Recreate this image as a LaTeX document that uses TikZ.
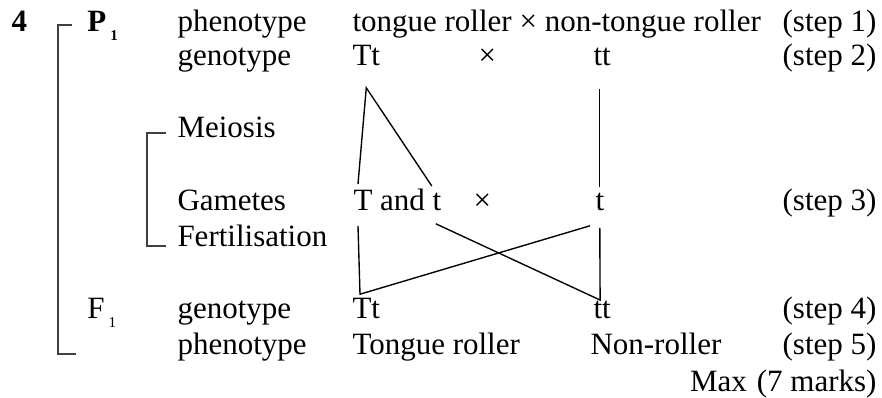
\documentclass[tikz,border=0pt]{standalone}
\usepackage{fontspec}
\setmainfont{Liberation Serif}
\usetikzlibrary{calc}
\newcommand{\lowone}{\kern1.6pt\raisebox{-3.4pt}{\fontsize{6}{6}\selectfont 1}}

\begin{document}
\begin{tikzpicture}[x=0.4pt,y=-0.4pt,
  txt/.style={anchor=base west,inner sep=0pt,font=\fontsize{12.4}{14}\selectfont},
  stp/.style={txt,anchor=base east},
  link/.style={line width=.55pt,line join=miter},
  bracket/.style={line width=.85pt,draw=black!75}]
\useasboundingbox (0,0) rectangle (882,398);
% question number and generations
\node[txt,font=\fontsize{12.4}{14}\selectfont\bfseries] (qnum) at (11,32) {4};
\node[txt,font=\fontsize{12.4}{14}\selectfont\bfseries] (P1) at (87,32) {P\lowone};
\node[txt] (F1) at (87,319) {F\lowone};
% row labels
\node[txt] (phen1) at (177,32) {phenotype};
\node[txt] (geno1) at (177,66) {genotype};
\node[txt] (meiosis) at (177,138) {Meiosis};
\node[txt] (gam) at (177,211) {Gametes};
\node[txt] (fert) at (177,247) {Fertilisation};
\node[txt] (geno2) at (177,319) {genotype};
\node[txt] (phen2) at (177,355) {phenotype};
% parents
\node[txt] (cross) at (352,32) {tongue roller × non-tongue roller};
\node[txt] (pTt) at (352,66) {Tt};
\node[txt] (pcross) at (478,66) {×};
\node[txt] (ptt) at (593,66) {tt};
% gametes
\node[txt] (gT) at (353,211) {T and t};
\node[txt] (gcross) at (473,211) {×};
\node[txt] (gt) at (595,211) {t};
% offspring
\node[txt] (fTt) at (352,319) {Tt};
\node[txt] (ftt) at (593,319) {tt};
\node[txt] (fTongue) at (352,355) {Tongue roller};
\node[txt] (fNon) at (590,355) {Non-roller};
% marking steps
\node[stp] (step1) at (877,32) {(step 1)};
\node[stp] (step2) at (877,66) {(step 2)};
\node[stp] (step3) at (877,211) {(step 3)};
\node[stp] (step4) at (877,319) {(step 4)};
\node[stp] (step5) at (877,355) {(step 5)};
\node[stp] (maxm) at (877,392) {Max\kern4pt(7 marks)};
% brackets
\draw[bracket] ($(P1.base west)+(-15,-7)$) -- ++(-14,0) |- ($(F1.base west)+(-11,35)$);
\draw[bracket] ($(meiosis.base west)+(-11,-5)$) -- ++(-19,0) |- ($(fert.base west)+(-11,-1)$);
% meiosis lines
\coordinate (split) at ($(pTt.south)+(0,21)$);
\draw[link] ($(gT.north west)+(5,-5)$) -- (split) -- ($(gT.north east)+(-10,-3)$);
\draw[link] ($(gt.north |- ptt.south)+(0,22)$) -- ($(gt.north)+(0,-6)$);
% fertilisation lines
\draw[link] ($(gT.south west)+(5,14)$) -- ($(fTt.north west)+(8,-4)$) -- ($(gt.south west)+(-5,14)$);
\draw[link] ($(gT.south east)+(-6,12)$) -- ($(ftt.north)+(-2,-1)$) -- ($(gt.south)+(0,16)$);
\end{tikzpicture}
\end{document}
